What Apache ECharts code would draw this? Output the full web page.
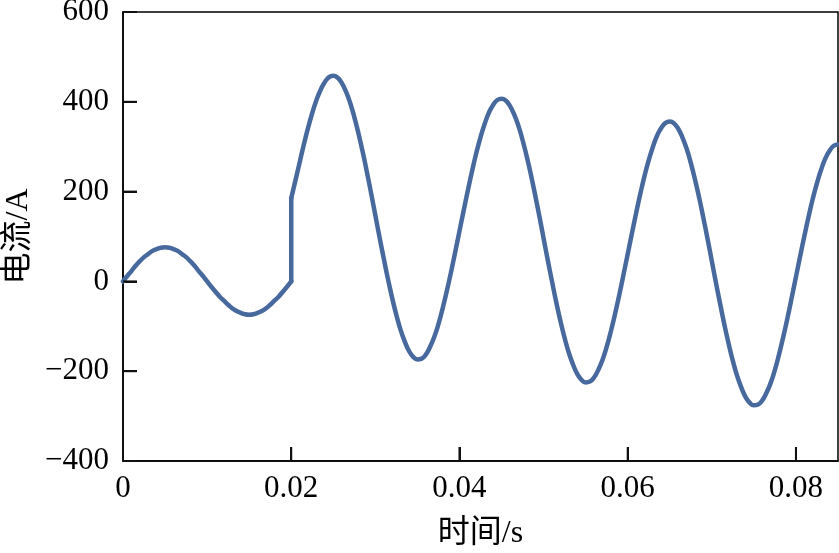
<!DOCTYPE html>
<html>
<head>
<meta charset="utf-8">
<script src="https://cdn.jsdelivr.net/npm/echarts@6/dist/echarts.min.js"></script>
<style>
  html, body { margin: 0; padding: 0; background: #fff; }
  #chart { width: 839px; height: 553px; }
</style>
</head>
<body>
<div id="chart"></div>
<script>
// pre-fault current, time in ms, current in A
const preFaultTime = [
  0, 0.5, 1, 1.5, 2, 2.5, 3, 3.5, 4, 4.5,
  5, 5.5, 6, 6.5, 7, 7.5, 8, 8.5, 9, 9.5,
  10, 10.5, 11, 11.5, 12, 12.5, 13, 13.5, 14, 14.5,
  15, 15.5, 16, 16.5, 17, 17.5, 18, 18.5, 19, 19.5, 20];
const preFaultCurrent = [
  0, 12, 23, 35, 45, 54, 61, 68, 72, 75,
  76, 75, 72, 68, 61, 54, 45, 35, 23, 12,
  0, -12, -23, -34, -43, -52, -60, -66, -70, -73,
  -74, -73, -70, -66, -60, -52, -43, -34, -23, -12, 0];

// the step at fault inception
const jumpTime = [20, 20];
const jumpCurrent = [0, 185];

// post-fault current, time in ms, current in A
const postFaultTime = [
  20, 20.5, 21, 21.5, 22, 22.5, 23, 23.5, 24, 24.5,
  25, 25.5, 26, 26.5, 27, 27.5, 28, 28.5, 29, 29.5,
  30, 30.5, 31, 31.5, 32, 32.5, 33, 33.5, 34, 34.5,
  35, 35.5, 36, 36.5, 37, 37.5, 38, 38.5, 39, 39.5,
  40, 40.5, 41, 41.5, 42, 42.5, 43, 43.5, 44, 44.5,
  45, 45.5, 46, 46.5, 47, 47.5, 48, 48.5, 49, 49.5,
  50, 50.5, 51, 51.5, 52, 52.5, 53, 53.5, 54, 54.5,
  55, 55.5, 56, 56.5, 57, 57.5, 58, 58.5, 59, 59.5,
  60, 60.5, 61, 61.5, 62, 62.5, 63, 63.5, 64, 64.5,
  65, 65.5, 66, 66.5, 67, 67.5, 68, 68.5, 69, 69.5,
  70, 70.5, 71, 71.5, 72, 72.5, 73, 73.5, 74, 74.5,
  75, 75.5, 76, 76.5, 77, 77.5, 78, 78.5, 79, 79.5,
  80, 80.5, 81, 81.5, 82, 82.5, 83, 83.5, 84, 84.5, 85];
const postFaultCurrent = [
  185, 225, 265, 305, 342, 375, 404, 427, 444, 455,
  458, 454, 442, 423, 398, 366, 329, 288, 243, 196,
  147, 98, 51, 5, -37, -75, -108, -134, -155, -168,
  -174, -172, -163, -146, -124, -95, -60, -21, 21, 66,
  112, 158, 203, 246, 286, 321, 351, 376, 393, 404,
  407, 403, 391, 372, 347, 315, 278, 237, 192, 145,
  96, 47, 0, -46, -88, -126, -159, -185, -206, -219,
  -225, -223, -214, -197, -175, -146, -111, -72, -30, 15,
  61, 107, 152, 195, 235, 270, 300, 325, 342, 353,
  356, 352, 340, 321, 296, 264, 227, 186, 141, 94,
  45, -4, -51, -97, -139, -177, -210, -236, -257, -270,
  -276, -274, -265, -248, -226, -197, -162, -123, -81, -36,
  10, 56, 101, 144, 184, 219, 249, 274, 291, 302, 305];

// tick values
const xTicks = [0.02, 0.04, 0.06, 0.08];
const yTicks = [-200, 0, 200, 400];

const xMin = 0, xMax = 0.085, xStep = 0.02;
const yMin = -400, yMax = 600, yStep = 200;
const tickLen = 14;

const lineColor = "#47699d";
const textColor = "#000000";
const font = "'Liberation Serif', 'Noto Sans CJK SC', serif";

// ms -> s
function pairs(ms, ys) {
  return ms.map((t, i) => [t / 1000, ys[i]]);
}

function curve(data, smooth) {
  return {
    type: "line",
    data: data,
    smooth: smooth,
    showSymbol: false,
    lineStyle: { color: lineColor, width: 4.5, join: "round", cap: "round" },
    animation: false,
  };
}

const chart = echarts.init(document.getElementById("chart"));
chart.setOption({
  backgroundColor: "#ffffff",
  animation: false,
  grid: {
    left: 123,
    right: 1,
    top: 12,
    bottom: 92,
    show: true,
    borderColor: "#000",
    borderWidth: 1.5,
    containLabel: false,
    outerBoundsMode: "none",
  },
  xAxis: {
    type: "value",
    min: xMin,
    max: xMax,
    interval: xStep,
    name: "时间/s",
    nameLocation: "middle",
    nameGap: 57,
    nameTextStyle: { color: textColor, fontSize: 32, fontFamily: font },
    axisLine: { show: true, onZero: false, lineStyle: { color: "#000", width: 1.5 } },
    axisTick: { show: true, inside: true, length: tickLen, lineStyle: { color: "#111", width: 2 } },
    splitLine: { show: false },
    axisLabel: {
      color: textColor,
      fontSize: 31,
      fontFamily: font,
      margin: 12,
      showMaxLabel: false,
      formatter: (v) => (Math.abs(v / xStep - Math.round(v / xStep)) < 1e-6 ? String(+v.toFixed(2)) : ""),
    },
  },
  yAxis: {
    type: "value",
    min: yMin,
    max: yMax,
    interval: yStep,
    name: "电流/A",
    nameLocation: "middle",
    nameGap: 88,
    nameTextStyle: { color: textColor, fontSize: 32, fontFamily: font },
    axisLine: { show: true, onZero: false, lineStyle: { color: "#000", width: 1.5 } },
    axisTick: { show: true, inside: true, length: tickLen, lineStyle: { color: "#111", width: 2 } },
    splitLine: { show: false },
    axisLabel: {
      color: textColor,
      fontSize: 31,
      fontFamily: font,
      margin: 14,
      formatter: (v) => String(v).replace("-", "\u2212"),
    },
  },
  series: [
    curve(pairs(preFaultTime, preFaultCurrent), true),
    curve(pairs(jumpTime, jumpCurrent), false),
    curve(pairs(postFaultTime, postFaultCurrent), true),
  ],
});

// inward tick marks as small filled bars, placed through the chart's scales
const ticks = [];
xTicks.forEach((v) => {
  const [px, py] = chart.convertToPixel({ xAxisIndex: 0, yAxisIndex: 0 }, [v, yMin]);
  ticks.push({ type: "rect", shape: { x: px - 1, y: py - tickLen, width: 2, height: tickLen },
    style: { fill: "#111" }, z: 100 });
});
yTicks.forEach((v) => {
  const [px, py] = chart.convertToPixel({ xAxisIndex: 0, yAxisIndex: 0 }, [xMin, v]);
  ticks.push({ type: "rect", shape: { x: px, y: py - 1, width: tickLen, height: 2 },
    style: { fill: "#111" }, z: 100 });
});
chart.setOption({ graphic: { elements: ticks } });
</script>
</body>
</html>
